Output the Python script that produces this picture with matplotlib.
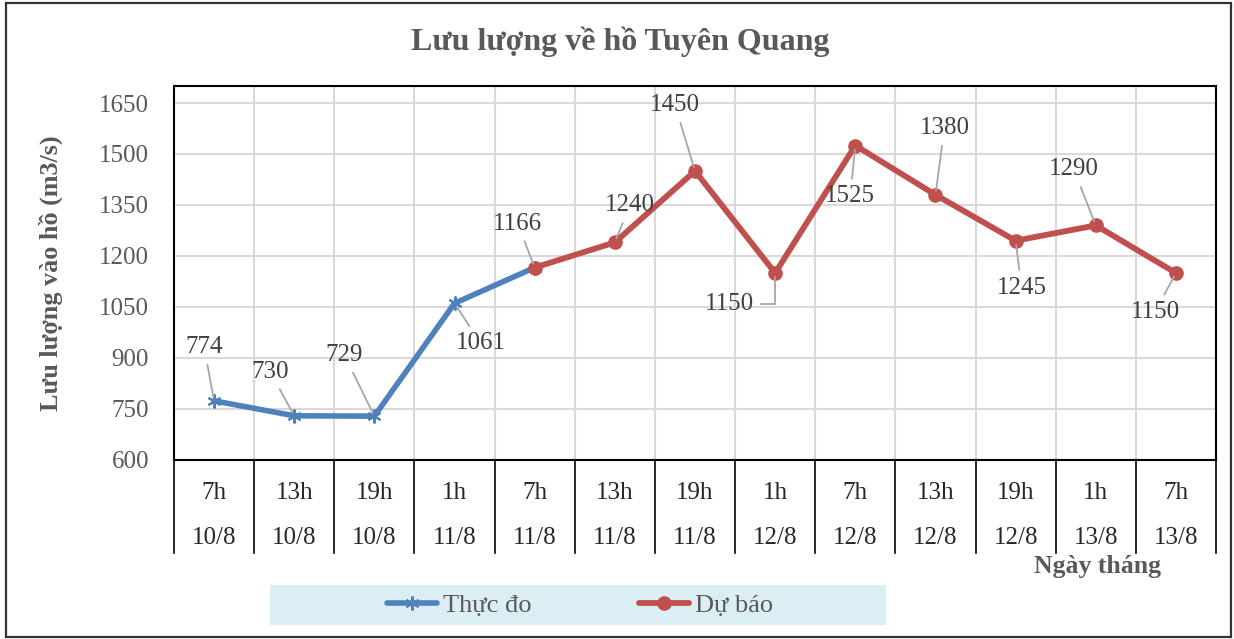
import matplotlib.pyplot as plt
from matplotlib.patches import Rectangle
import numpy as np

plt.rcParams['font.family'] = ['Liberation Serif', 'DejaVu Serif']

# Data
hours = ["7h", "13h", "19h", "1h", "7h", "13h", "19h", "1h", "7h", "13h", "19h", "1h", "7h"]
days = ["10/8", "10/8", "10/8", "11/8", "11/8", "11/8", "11/8", "12/8", "12/8", "12/8", "12/8", "13/8", "13/8"]
measured = [774, 730, 729, 1061, 1166]            # Thực đo, index 0-4
forecast = [1166, 1240, 1450, 1150, 1525, 1380, 1245, 1290, 1150]  # Dự báo, index 4-12

# label offsets (pixels) from the point to the label centre
meas_off = [(-10, 54), (-24, 44), (-30, 61), (26, -40), None]
fc_off = [(-17, 44), (15, 37), (-20, 66), (-46, -31), (-5, -51), (9, 67), (6, -47), (-22, 56), (-21, -39)]

blue = '#4F81BD'
red = '#C0504D'
grey_txt = '#595959'

fig = plt.figure(figsize=(12.34, 6.39), dpi=100)
ax = fig.add_axes([174 / 1234, 1 - 460 / 639, (1216 - 174) / 1234, (460 - 86) / 639])

n = len(hours)
x_meas = np.arange(len(measured))
x_fc = np.arange(n - len(forecast), n)

ax.plot(x_meas, measured, color=blue, lw=4.0, marker=(6, 2, 0), ms=10, mew=1.5,
        mec=blue, label='Thực đo', zorder=3, solid_capstyle='round')
ax.plot(x_fc, forecast, color=red, lw=4.2, marker='o', ms=9.5, label='Dự báo',
        zorder=4, solid_capstyle='round')

ax.set_xlim(-0.5, n - 0.5)
ax.set_ylim(600, 1700)
ax.set_yticks(np.arange(600, 1651, 150))
ax.set_xticks(np.arange(n))
ax.set_xticklabels([f"{h}\n{d}" for h, d in zip(hours, days)])
for lbl in ax.get_xticklabels():
    lbl.set_linespacing(2.35)
ax.set_xticks(np.arange(n + 1) - 0.5, minor=True)
ax.tick_params(axis='x', which='both', length=0, pad=16, labelsize=18, labelcolor='#262626')
ax.tick_params(axis='y', length=0, pad=18, labelsize=18, labelcolor=grey_txt)
ax.grid(axis='y', which='major', color='#D9D9D9', lw=1.5)
ax.grid(axis='x', which='minor', color='#D9D9D9', lw=1.5)
ax.set_axisbelow(True)
for s in ax.spines.values():
    s.set_color('black')
    s.set_linewidth(1.5)

# separators under the category axis
trans = ax.get_xaxis_transform()
for b in np.arange(n + 1) - 0.5:
    ax.plot([b, b], [0, -(553 - 460) / 374], color='black', lw=1.2,
            transform=trans, clip_on=False)

def label_points(xs, ys, offs):
    for xi, yi, off in zip(xs, ys, offs):
        if off is None:
            continue
        conn = 'arc3'
        if off[0] < -40:
            conn = 'angle,angleA=0,angleB=90,rad=0'
        ax.annotate(str(yi), (xi, yi), xytext=off, textcoords='offset pixels',
                    ha='center', va='center', fontsize=18, color='#404040',
                    arrowprops=dict(arrowstyle='-', color='#A6A6A6', lw=1.3,
                                    shrinkA=3, shrinkB=3, connectionstyle=conn),
                    zorder=5)

label_points(x_meas, measured, meas_off)
label_points(x_fc, forecast, fc_off)

ax.set_ylabel('Lưu lượng vào hồ (m3/s)', fontsize=18.8, fontweight='bold',
              color=grey_txt, labelpad=26)

fig.text(620 / 1234, 1 - 42 / 639, 'Lưu lượng về hồ Tuyên Quang', ha='center',
         va='center', fontsize=23, fontweight='bold', color=grey_txt)
fig.text(1098 / 1234, 1 - 567 / 639, 'Ngày tháng', ha='center', va='center',
         fontsize=18.5, fontweight='bold', color=grey_txt)

# legend with light blue band
fig.patches.append(Rectangle((270 / 1234, 1 - 625 / 639), (886 - 270) / 1234, 40 / 639,
                             transform=fig.transFigure, facecolor='#DAEEF3',
                             edgecolor='none', zorder=0))
fig.legend(loc='center', bbox_to_anchor=(580 / 1234, 1 - 605 / 639), ncol=2,
           frameon=False, fontsize=19, handlelength=1.9, columnspacing=4.1,
           handletextpad=0.2, labelcolor=grey_txt)

# outer chart border
fig.patches.append(Rectangle((6 / 1234, 2 / 639), 1225 / 1234, 634 / 639,
                             transform=fig.transFigure, facecolor='none',
                             edgecolor='#333333', lw=1.6))

fig.savefig('out.png', dpi=100)
